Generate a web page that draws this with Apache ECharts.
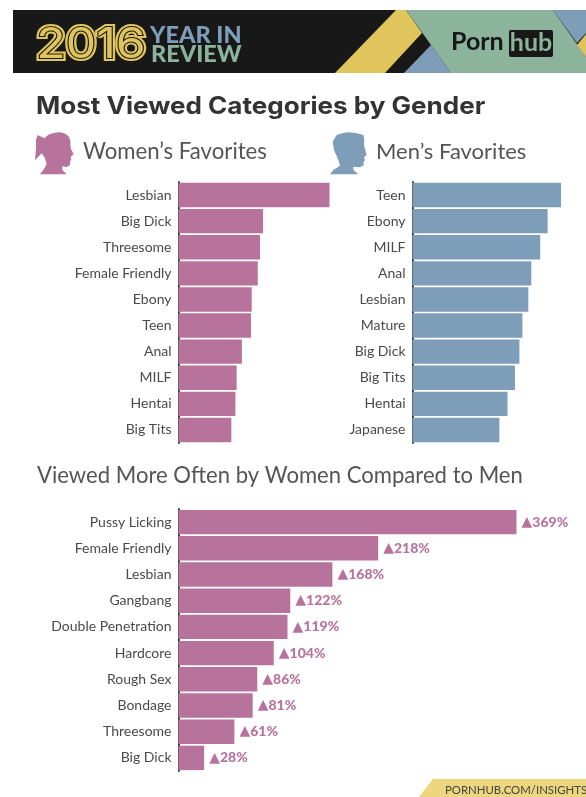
<!DOCTYPE html>
<html>
<head>
<meta charset="utf-8">
<style>html,body{margin:0;padding:0;background:#fff}#chart{width:586px;height:797px}</style>
<script src="https://cdn.jsdelivr.net/npm/echarts@6/dist/echarts.min.js"></script>
</head>
<body>
<div id="chart"></div>
<script>
// Favourite categories by gender, relative to each column's leader
const womenCategories = ['Lesbian','Big Dick','Threesome','Female Friendly','Ebony','Teen','Anal','MILF','Hentai','Big Tits'];
const womenValues = [100,56,54,52.5,48.5,48,42,38.5,37.7,35];
const menCategories = ['Teen','Ebony','MILF','Anal','Lesbian','Mature','Big Dick','Big Tits','Hentai','Japanese'];
const menValues = [100,91,86,80,78,74,72,69,64,58.5];
// Percent more often viewed by women than by men
const moreCategories = ['Pussy Licking','Female Friendly','Lesbian','Gangbang','Double Penetration','Hardcore','Rough Sex','Bondage','Threesome','Big Dick'];
const moreValues = [369,218,168,122,119,104,86,81,61,28];

const PINK = '#b8739c', BLUE = '#7d9db8', GREEN = '#8cb49c', YELLOW = '#e0c55c', BLACK = '#181818';
const LABEL_FONT = 'Lato';

const grids = [
  {left: 178.5, top: 182, width: 151, height: 261},
  {left: 412.5, top: 182, width: 148.5, height: 261},
  {left: 178.5, top: 509, width: 366.4, height: 262}
];
const xMax = [100, 100, 400];
const cats = [womenCategories, menCategories, moreCategories];

const xAxes = grids.map((g, i) => ({gridIndex: i, type: 'value', min: 0, max: xMax[i], show: false}));
const yAxes = grids.map((g, i) => ({
  gridIndex: i, type: 'category', inverse: true, data: cats[i],
  axisLine: {show: true, lineStyle: {color: '#444', width: 2}},
  axisTick: {show: false},
  axisLabel: {color: '#4a4a4a', fontFamily: LABEL_FONT, fontSize: 14, margin: 7}
}));

function bars(i, values, color, extra) {
  return Object.assign({
    type: 'bar', xAxisIndex: i, yAxisIndex: i, data: values, barWidth: 24.4,
    itemStyle: {color}, silent: true, animation: false
  }, extra || {});
}

function poly(points, fill, extra) {
  return Object.assign({type: 'polygon', silent: true, shape: {points}, style: {fill}}, extra || {});
}
function label(text, x, y, font, fill, align, styleExtra, elementExtra) {
  return Object.assign({type: 'text', silent: true, x, y, style: Object.assign({
    text, x: 0, y: 0, font, fill, align: align || 'left', verticalAlign: 'middle'
  }, styleExtra || {})}, elementExtra || {});
}

// Head silhouettes, drawn in a 3x local space
const womanHead = [[58,40],[70,29],[88,23],[104,22],[118,25],[130,33],[136,46],[136,60],[138,72],[146,88],[137,95],[139,103],[135,110],[135,120],[125,126],[112,124],[112,135],[125,148],[45,148],[55,135],[65,118],[60,100],[50,85],[30,106],[33,70],[33,45],[38,30]];
const manHead = [[50,30],[68,24],[85,22],[108,24],[130,30],[133,45],[132,60],[140,90],[132,97],[135,105],[130,112],[132,120],[120,127],[100,125],[100,135],[115,148],[30,148],[40,135],[60,122],[55,105],[42,75],[38,50]];
const third = {scaleX: 1/3, scaleY: 1/3};

const yearFont = '400 42px Inter';
const yearStretch = {scaleX: 1.15};
const graphic = [
  // Header band
  {type: 'rect', silent: true, shape: {x: 13, y: 10, width: 573, height: 63}, style: {fill: BLACK}},
  poly([[396,10],[406,10],[422,33],[385,73],[335,73]], YELLOW),
  poly([[431,45],[451,73],[404,73]], BLUE),
  poly([[406,10],[553,10],[586,57],[586,73],[451,73]], GREEN),
  poly([[553,10],[586,10],[586,33],[577,43]], BLUE),
  poly([[586,34],[577,45],[586,57]], YELLOW),
  // Triple-line year: outer outline, dark gap, inner core
  label('2016', 91, 45, yearFont, 'transparent', 'center', {stroke: YELLOW, lineWidth: 6}, yearStretch),
  label('2016', 91, 45, yearFont, 'transparent', 'center', {stroke: BLACK, lineWidth: 2}, yearStretch),
  label('2016', 91, 45, yearFont, YELLOW, 'center', null, yearStretch),
  label('YEAR IN', 150, 35, '900 23.5px Lato', BLUE),
  label('REVIEW', 151, 54, '900 23.5px Lato', GREEN),
  label('Porn', 451, 42, '700 25px Lato', BLACK),
  {type: 'rect', silent: true, shape: {x: 509, y: 30, width: 44, height: 27, r: 2}, style: {fill: BLACK}},
  label('hub', 531, 43, '700 25px Lato', GREEN, 'center'),
  // Headings
  label('Most Viewed Categories by Gender', 36, 107, '700 24px Inter', '#333', 'left', null, {scaleX: 1.085}),
  poly(womanHead, PINK, Object.assign({x: 25, y: 125}, third)),
  label('Women\u2019s Favorites', 83, 152, '400 22.2px Lato', '#555'),
  poly(manHead, BLUE, Object.assign({x: 320, y: 125}, third)),
  label('Men\u2019s Favorites', 376, 152, '400 22px Lato', '#555'),
  label('Viewed More Often by Women Compared to Men', 37, 476, '400 22.1px Lato', '#555'),
  // Source tab
  poly([[433,779],[586,779],[586,797],[419,797]], '#ecd77e'),
  label('PORNHUB.COM/INSIGHTS', 445, 790, '400 11.4px Lato', '#444')
];

const chart = echarts.init(document.getElementById('chart'), null, {renderer: 'canvas'});
chart.setOption({
  backgroundColor: '#fff',
  animation: false,
  grid: grids,
  xAxis: xAxes,
  yAxis: yAxes,
  graphic,
  series: [
    bars(0, womenValues, PINK),
    bars(1, menValues, BLUE),
    bars(2, moreValues, PINK, {
      label: {
        show: true, position: 'right', distance: 5, color: PINK,
        formatter: p => '{arrow|\u25B2}{pct|' + p.value + '%}',
        rich: {
          arrow: {fontFamily: 'DejaVu Sans', fontSize: 14, color: PINK},
          pct: {fontFamily: LABEL_FONT, fontWeight: 900, fontSize: 14, color: PINK}
        }
      }
    })
  ]
});
</script>
</body>
</html>
